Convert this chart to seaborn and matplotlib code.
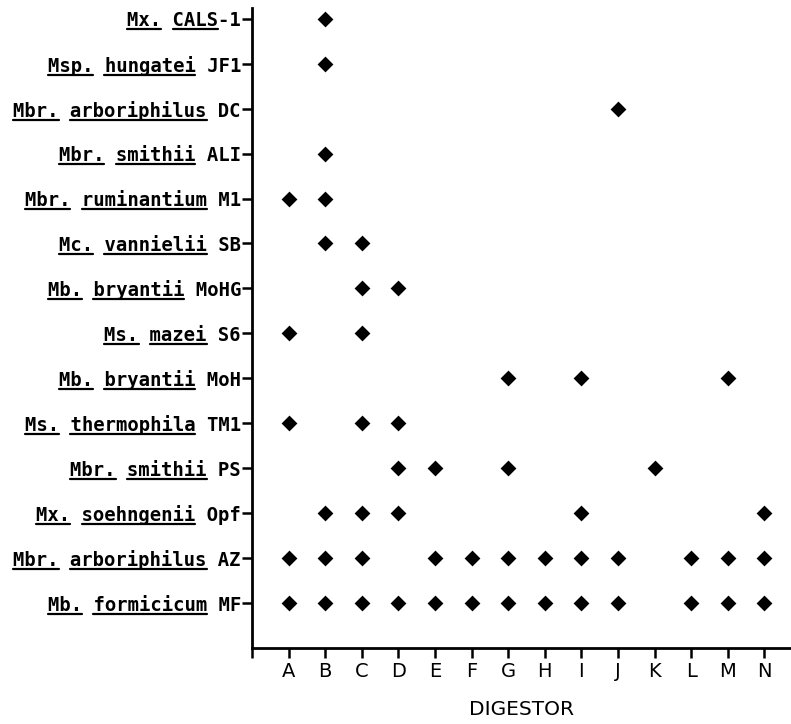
import numpy as np
import pandas as pd
import matplotlib
matplotlib.use("Agg")
import matplotlib.pyplot as plt
from matplotlib.lines import Line2D
import seaborn as sns

# digestors on the x axis
digestors = list("ABCDEFGHIJKLMN")

# strains, bottom to top
genus = ["Mb.", "Mbr.", "Mx.", "Mbr.", "Ms.", "Mb.", "Ms.", "Mb.", "Mc.",
         "Mbr.", "Mbr.", "Mbr.", "Msp.", "Mx."]
species = ["formicicum", "arboriphilus", "soehngenii", "smithii", "thermophila",
           "bryantii", "mazei", "bryantii", "vannielii", "ruminantium",
           "smithii", "arboriphilus", "hungatei", "CALS"]
strain = ["MF", "AZ", "Opf", "PS", "TM1", "MoH", "S6", "MoHG", "SB", "M1",
          "ALI", "DC", "JF1", "-1"]

# digestors where each strain was detected (same order as above)
found = [
    "ABCDEFGHIJLMN",
    "ABCEFGHIJLMN",
    "BCDIN",
    "DEGK",
    "ACD",
    "GIM",
    "AC",
    "CD",
    "BC",
    "AB",
    "B",
    "J",
    "B",
    "B",
]

rows = []
for i, d_list in enumerate(found):
    for d in d_list:
        rows.append({"digestor": digestors.index(d) + 1, "strain": i + 1})
df = pd.DataFrame(rows)

sns.set_style("ticks")
plt.rcParams["font.family"] = ["DejaVu Sans"]
plt.rcParams["text.color"] = "black"
plt.rcParams["axes.labelcolor"] = "black"
plt.rcParams["xtick.color"] = "black"
plt.rcParams["ytick.color"] = "black"
plt.rcParams["axes.edgecolor"] = "black"

fig = plt.figure(figsize=(7.91, 7.24), dpi=100)
ax = fig.add_axes([0.3186, 0.105, 0.6814, 0.884])

sns.scatterplot(data=df, x="digestor", y="strain", marker="D", s=65,
                color="black", edgecolor="black", linewidth=0, ax=ax)

labels = []
for g, s, st in zip(genus, species, strain):
    sep = "" if st.startswith("-") else " "
    labels.append(f"{g} {s}{sep}{st}")

ax.set_xlim(0, 14.73)
ax.set_ylim(0, 14.24)
ax.set_xticks(range(0, len(digestors) + 1))
ax.set_xticklabels([""] + digestors, fontsize=14)
ax.set_yticks(range(1, len(strain) + 1))
ax.set_yticklabels(labels, fontsize=13.6, fontfamily="DejaVu Sans Mono",
                   fontweight="bold")
ax.tick_params(axis="x", length=7, width=1.8, pad=3)
ax.tick_params(axis="y", length=7, width=1.8, pad=1)
for sp in ["top", "right"]:
    ax.spines[sp].set_visible(False)
for sp in ["left", "bottom"]:
    ax.spines[sp].set_linewidth(2)

ax.set_xlabel("DIGESTOR", fontsize=14.5, labelpad=14)
ax.set_ylabel("")

# underline genus and species names (monospace -> equal char widths)
fig.canvas.draw()
renderer = fig.canvas.get_renderer()
W, H = fig.bbox.width, fig.bbox.height
for lab, g, s in zip(ax.get_yticklabels(), genus, species):
    bb = lab.get_window_extent(renderer)
    txt = lab.get_text()
    cw = bb.width / len(txt)
    yline = bb.y0 + 1.0
    for start, n in [(0, len(g)), (len(g) + 1, len(s))]:
        x0 = bb.x0 + start * cw
        x1 = x0 + n * cw
        fig.add_artist(Line2D([x0 / W, x1 / W], [yline / H, yline / H],
                              color="black", lw=1.6,
                              transform=fig.transFigure))

fig.savefig("out.png", dpi=100)
